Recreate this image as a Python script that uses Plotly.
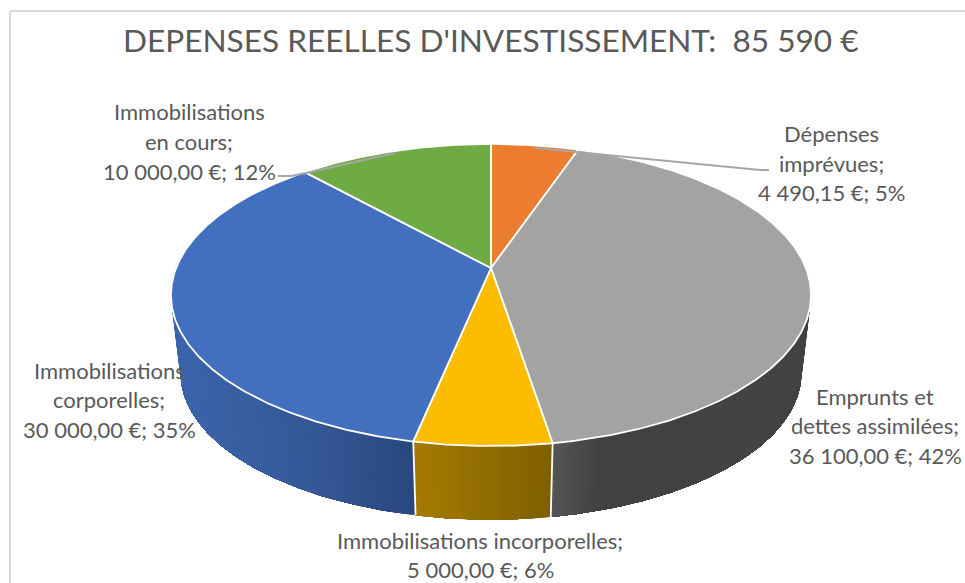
import numpy as np
import plotly.graph_objects as go

# ---- data ----
categories = ["Dépenses imprévues", "Emprunts et dettes assimilées",
              "Immobilisations incorporelles", "Immobilisations corporelles",
              "Immobilisations en cours"]
values = [4490.15, 36100.00, 5000.00, 30000.00, 10000.00]
top_colors = ["#EB7C30", "#A3A3A3", "#FCBD00", "#4270BF", "#6EAB45"]
title_text = "DEPENSES REELLES D'INVESTISSEMENT:  85 590 €"
label_lines = [
    ["Dépenses", "imprévues;", "4 490,15 €; 5%"],
    ["Emprunts et", "dettes assimilées;", "36 100,00 €; 42%"],
    ["Immobilisations incorporelles;", "5 000,00 €; 6%"],
    ["Immobilisations", "corporelles;", "30 000,00 €; 35%"],
    ["Immobilisations", "en cours;", "10 000,00 €; 12%"],
]

# ---- layout / style constants ----
W, H = 965, 583
CX, CY = 491, 268          # pie apex on the page
RX, RY, PERSP = 314.9, 146.2, 0.1787
DEPTH, SHRINK = 79, 0.97   # drop and narrowing of the lower rim
TEXT = "#595959"
FONT = "Lato"
BORDER = "#D9D9D9"
LEADER = "#A6A6A6"
# side-wall shading, left-to-right on the page: (x, rgb) stops
side_stops = {
    1: [(552, (86, 86, 86)), (600, (66, 66, 66)), (811, (67, 67, 67))],
    2: [(413, (165, 123, 0)), (552, (127, 95, 0))],
    3: [(171, (60, 101, 173)), (330, (52, 85, 146)), (413, (41, 71, 127))],
}
label_pos = [
    (831, [133, 163, 192]),
    (875, [396, 425, 455]),
    (480, [540, 569]),
    (109, [370, 399, 429]),
    (189, [111, 141, 171]),
]


def rim(deg, lower=False):
    """Project a clockwise-from-top angle onto the tilted disc."""
    t = np.radians(deg)
    u, v = np.sin(t), np.cos(t)
    k = 1 + PERSP * v
    s = SHRINK if lower else 1.0
    return CX + s * RX * u / k, CY + (DEPTH if lower else 0) - s * RY * v / k


def shade(x, stops):
    xs = [p[0] for p in stops]
    return "rgb({},{},{})".format(*(int(round(np.interp(x, xs, [p[1][i] for p in stops]))) for i in range(3)))


edges = np.concatenate([[0], np.cumsum(values)]) / np.sum(values) * 360
fig = go.Figure()

# side walls: each strip spans from its own start to the wall's far end, and the
# next one paints over it, so that no seams show between the shades
for i, stops in side_stops.items():
    a0, a1 = max(edges[i], 90), min(edges[i + 1], 270)
    n = max(2, int((a1 - a0) / 0.6))
    grid = np.linspace(a0, a1, n + 1)
    for j in range(n):
        arc = grid[j:]
        xt, yt = rim(arc)
        xb, yb = rim(arc[::-1], lower=True)
        col = shade((rim(grid[j])[0] + rim(grid[j + 1])[0]) / 2, stops)
        fig.add_trace(go.Scatter(x=list(xt) + list(xb) + [xt[0]], y=list(yt) + list(yb) + [yt[0]],
                                 mode="lines", fill="toself", fillcolor=col,
                                 line=dict(color=col, width=0), hoverinfo="skip", showlegend=False))

# white seams between the walls
for i in (2, 3):
    xt, yt = rim(edges[i])
    xb, yb = rim(edges[i], lower=True)
    fig.add_trace(go.Scatter(x=[xt, xb], y=[yt, yb], mode="lines",
                             line=dict(color="white", width=1.8), hoverinfo="skip", showlegend=False))

# top faces
for i, name in enumerate(categories):
    ang = np.linspace(edges[i], edges[i + 1], max(8, int(edges[i + 1] - edges[i]) * 2))
    xs, ys = rim(ang)
    fig.add_trace(go.Scatter(x=[CX] + list(xs) + [CX], y=[CY] + list(ys) + [CY], mode="lines",
                             fill="toself", fillcolor=top_colors[i], line=dict(color="white", width=1.8),
                             name=name, text=f"{name}: {values[i]:,.2f} €", hoverinfo="text", showlegend=False))

# leader lines
fig.add_trace(go.Scatter(x=[278, 291, 306, 395], y=[176, 176, 173, 153], mode="lines",
                         line=dict(color=LEADER, width=2), hoverinfo="skip", showlegend=False))
fig.add_trace(go.Scatter(x=[769, 760, 535], y=[170, 170, 148], mode="lines",
                         line=dict(color=LEADER, width=2), hoverinfo="skip", showlegend=False))

annotations = [dict(x=490.5, y=39.5, text=title_text, showarrow=False, xanchor="center", yanchor="middle",
                    font=dict(family=FONT, size=31.6, color=TEXT))]
for lines, (lx, lys) in zip(label_lines, label_pos):
    for line, ly in zip(lines, lys):
        annotations.append(dict(x=lx, y=ly, text=line, showarrow=False, xanchor="center", yanchor="middle",
                                font=dict(family=FONT, size=22, color=TEXT)))

shapes = [
    dict(type="line", x0=10, x1=W, y0=11, y1=11, line=dict(color=BORDER, width=2), layer="below"),
    dict(type="line", x0=10, x1=10, y0=11, y1=H, line=dict(color=BORDER, width=2), layer="below"),
]

fig.update_layout(
    width=W, height=H, margin=dict(l=0, r=0, t=0, b=0),
    paper_bgcolor="white", plot_bgcolor="white",
    xaxis=dict(range=[0, W], visible=False, fixedrange=True),
    yaxis=dict(range=[H, 0], visible=False, fixedrange=True),
    annotations=annotations, shapes=shapes, showlegend=False,
    font=dict(family=FONT),
)
fig.write_html("out.html", post_script="document.body.style.margin='0';document.body.style.overflow='hidden';",
               config=dict(displayModeBar=False))
